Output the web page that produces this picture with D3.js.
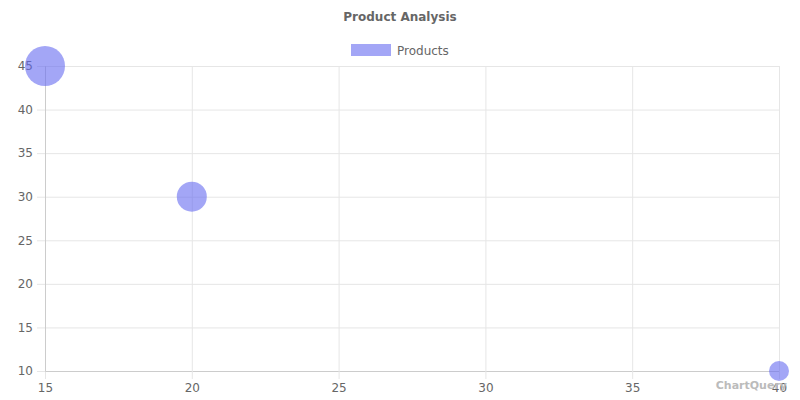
<!DOCTYPE html>
<html>
<head>
<meta charset="utf-8">
<script src="https://cdn.jsdelivr.net/npm/d3@7"></script>
<style>
  body { margin: 0; background: #fff; }
  text { font-family: "DejaVu Sans", sans-serif; }
</style>
</head>
<body>
<div id="chart"></div>
<script>
var xValues = [15, 20, 40],
    yValues = [45, 30, 10],
    rValues = [20, 15, 10],
    xTicks = [15, 20, 25, 30, 35, 40],
    yTicks = [10, 15, 20, 25, 30, 35, 40, 45],
    seriesName = 'Products',
    title = 'Product Analysis';

var width = 800, height = 400,
    margin = {left: 45, right: 21, top: 66, bottom: 29},
    fill = 'rgba(102,106,240,0.6)',
    svg, x, y, r, data;

data = xValues.map(function (d, i) {
  return {x: d, y: yValues[i], r: rValues[i]};
});

svg = d3.select('#chart').append('svg')
  .attr('width', width)
  .attr('height', height);

x = d3.scaleLinear().domain([15, 40]).range([margin.left, width - margin.right]);
y = d3.scaleLinear().domain([10, 45]).range([height - margin.bottom, margin.top]);
r = d3.scaleLinear().domain([0, 20]).range([0, 20]);

// grid
svg.append('g')
  .attr('transform', 'translate(0,' + (height - margin.bottom) + ')')
  .call(d3.axisBottom(x).tickValues(xTicks).tickSize(-(height - margin.top - margin.bottom)).tickFormat(''))
  .call(function (g) {
    g.select('.domain').remove();
    g.selectAll('line').attr('stroke', '#e6e6e6');
  });
svg.append('g')
  .attr('transform', 'translate(' + margin.left + ',0)')
  .call(d3.axisLeft(y).tickValues(yTicks).tickSize(-(width - margin.left - margin.right)).tickFormat(''))
  .call(function (g) {
    g.select('.domain').remove();
    g.selectAll('line').attr('stroke', '#e6e6e6');
  });

// axes
svg.append('g')
  .attr('transform', 'translate(0,' + (height - margin.bottom) + ')')
  .call(d3.axisBottom(x).tickValues(xTicks).tickSize(8).tickPadding(4))
  .call(function (g) {
    g.select('.domain').attr('stroke', '#ccc');
    g.selectAll('line').attr('stroke', '#e6e6e6');
    g.selectAll('text').attr('fill', '#666').attr('font-size', 12);
  });
svg.append('g')
  .attr('transform', 'translate(' + margin.left + ',0)')
  .call(d3.axisLeft(y).tickValues(yTicks).tickSize(8).tickPadding(4))
  .call(function (g) {
    g.select('.domain').attr('stroke', '#ccc');
    g.selectAll('line').attr('stroke', '#e6e6e6');
    g.selectAll('text').attr('fill', '#666').attr('font-size', 12);
  });

// bubbles
svg.append('g').selectAll('circle')
  .data(data)
  .enter()
  .append('circle')
  .attr('cx', function (d) { return x(d.x); })
  .attr('cy', function (d) { return y(d.y); })
  .attr('r', function (d) { return r(d.r); })
  .attr('fill', fill);

// title
svg.append('text')
  .attr('x', width / 2)
  .attr('y', 21)
  .attr('text-anchor', 'middle')
  .attr('font-size', 12)
  .attr('font-weight', 'bold')
  .attr('fill', '#666')
  .text(title);

// legend
svg.append('rect')
  .attr('x', 351).attr('y', 44)
  .attr('width', 40).attr('height', 12)
  .attr('fill', fill);
svg.append('text')
  .attr('x', 397).attr('y', 55)
  .attr('font-size', 12)
  .attr('fill', '#666')
  .text(seriesName);

// watermark
svg.append('text')
  .attr('x', 787).attr('y', 389)
  .attr('text-anchor', 'end')
  .attr('font-size', 11)
  .attr('font-weight', 'bold')
  .attr('fill', '#bbb')
  .text('ChartQuery');
</script>
</body>
</html>
